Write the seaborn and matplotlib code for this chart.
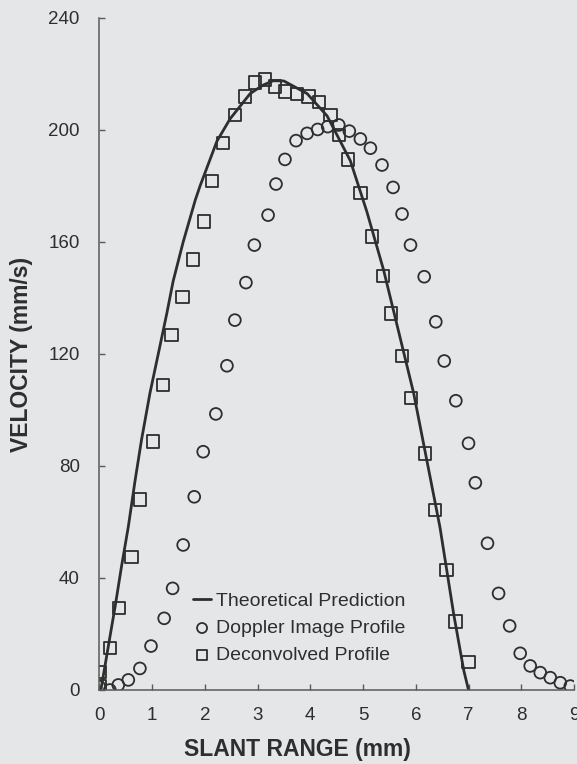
import matplotlib
matplotlib.use("Agg")
import matplotlib.pyplot as plt
import seaborn as sns
import pandas as pd

# ---- data ----
theory_x = [0.03, 0.17, 0.30, 0.42, 0.55, 0.68, 0.80, 0.96, 1.12, 1.28, 1.40, 1.59, 1.82,
            1.91, 2.23, 2.48, 2.86, 3.10, 3.30, 3.50, 3.94, 4.32, 4.76, 5.07, 5.39, 5.96,
            6.46, 6.72, 6.91, 7.00]
theory_y = [0, 15.5, 29.8, 44, 58.3, 75, 89.3, 106, 120.2, 134.5, 146, 160, 175,
            180, 196, 204, 213, 216, 217.6, 217.5, 213, 205, 189, 171, 150, 106,
            58, 27, 7, 0]

doppler_x = [0.0, 0.2, 0.36, 0.55, 0.77, 0.98, 1.23, 1.39, 1.59, 1.80, 1.97, 2.21, 2.42,
             2.57, 2.78, 2.94, 3.20, 3.35, 3.52, 3.73, 3.94, 4.14, 4.33, 4.54, 4.74, 4.95,
             5.14, 5.36, 5.57, 5.74, 5.90, 6.16, 6.38, 6.54, 6.76, 7.0, 7.13, 7.36, 7.57,
             7.78, 7.98, 8.17, 8.36, 8.55, 8.74, 8.93]
doppler_y = [1.2, 0, 1.8, 3.6, 7.7, 15.7, 25.6, 36.3, 51.8, 69, 85.1, 98.6, 115.8,
             132.1, 145.5, 158.9, 169.6, 180.7, 189.5, 196.2, 198.8, 200.2, 201.2, 201.8,
             199.6, 196.8, 193.5, 187.5, 179.5, 170, 158.9, 147.6, 131.5, 117.5, 103.3,
             88.1, 74, 52.4, 34.5, 22.9, 13.1, 8.6, 6.2, 4.4, 2.6, 1.4]

deconv_x = [0.0, 0.0, 0.20, 0.37, 0.61, 0.77, 1.02, 1.21, 1.37, 1.58, 1.78, 1.99, 2.14,
            2.35, 2.57, 2.76, 2.95, 3.14, 3.33, 3.52, 3.75, 3.97, 4.16, 4.38, 4.54, 4.72,
            4.95, 5.17, 5.38, 5.53, 5.74, 5.91, 6.18, 6.36, 6.58, 6.75, 7.0]
deconv_y = [1.2, 6.5, 15.1, 29.2, 47.6, 68.1, 88.7, 108.9, 126.8, 140.3, 153.8, 167.3,
            181.8, 195.3, 205.4, 211.9, 216.9, 218.1, 215.5, 213.7, 212.9, 211.9, 210.1,
            205.4, 198.2, 189.5, 177.4, 161.9, 147.9, 134.5, 119.3, 104.2, 84.5, 64.3,
            42.9, 24.4, 10.0]

x_ticks = [0, 1, 2, 3, 4, 5, 6, 7, 8, 9]
y_ticks = [0, 40, 80, 120, 160, 200, 240]
labels = ["Theoretical Prediction", "Doppler Image Profile", "Deconvolved Profile"]

# ---- style ----
sns.set_theme(style="ticks")
bg = "#e5e6e8"
ink = "#2e2e2e"
plt.rcParams["font.family"] = ["Liberation Sans", "DejaVu Sans"]
plt.rcParams["text.color"] = ink

fig = plt.figure(figsize=(5.77, 7.64), dpi=100, facecolor=bg)
ax = fig.add_axes([99.3 / 577, (764 - 690) / 764, (574 - 99.3) / 577, (690 - 18) / 764])
ax.set_facecolor(bg)

theory = pd.DataFrame({"x": theory_x, "y": theory_y})
dop = pd.DataFrame({"x": doppler_x, "y": doppler_y})
dec = pd.DataFrame({"x": deconv_x, "y": deconv_y})

sns.lineplot(data=theory, x="x", y="y", ax=ax, color=ink, linewidth=2.0,
             label=labels[0], sort=False)
sns.scatterplot(data=dop, x="x", y="y", ax=ax, marker="o", s=72,
                facecolor="none", edgecolor=ink, linewidth=1.3, label=labels[1])
sns.scatterplot(data=dec, x="x", y="y", ax=ax, marker="s", s=80,
                facecolor="none", edgecolor=ink, linewidth=1.3, label=labels[2])

ax.set_xlim(0, 9)
ax.set_ylim(0, 240)
ax.set_xticks(x_ticks)
ax.set_yticks(y_ticks)
for s in ["top", "right"]:
    ax.spines[s].set_visible(False)
for s in ["left", "bottom"]:
    ax.spines[s].set_color("#5a5a5a")
    ax.spines[s].set_linewidth(1.1)
ax.tick_params(axis="both", direction="in", length=4, width=1.0, color="#5a5a5a",
               labelsize=13.5, labelcolor=ink)
ax.tick_params(axis="y", pad=14)
ax.tick_params(axis="x", pad=12)

ax.set_xlabel("SLANT RANGE (mm)", fontsize=16.5, fontweight="bold", color=ink)
ax.set_ylabel("VELOCITY (mm/s)", fontsize=16.5, fontweight="bold", color=ink)
ax.xaxis.set_label_coords((297 - 99.3) / 474.7, -0.072)
ax.yaxis.set_label_coords(-(99.3 - 33) / 474.7, 0.5)

ax.legend(loc="upper left", bbox_to_anchor=(0.197, 0.145), frameon=False,
          fontsize=14, handlelength=0.95, handletextpad=0.25, labelspacing=0.48,
          borderpad=0, borderaxespad=0, markerscale=0.85)

fig.savefig("out.png", dpi=100, facecolor=bg)
